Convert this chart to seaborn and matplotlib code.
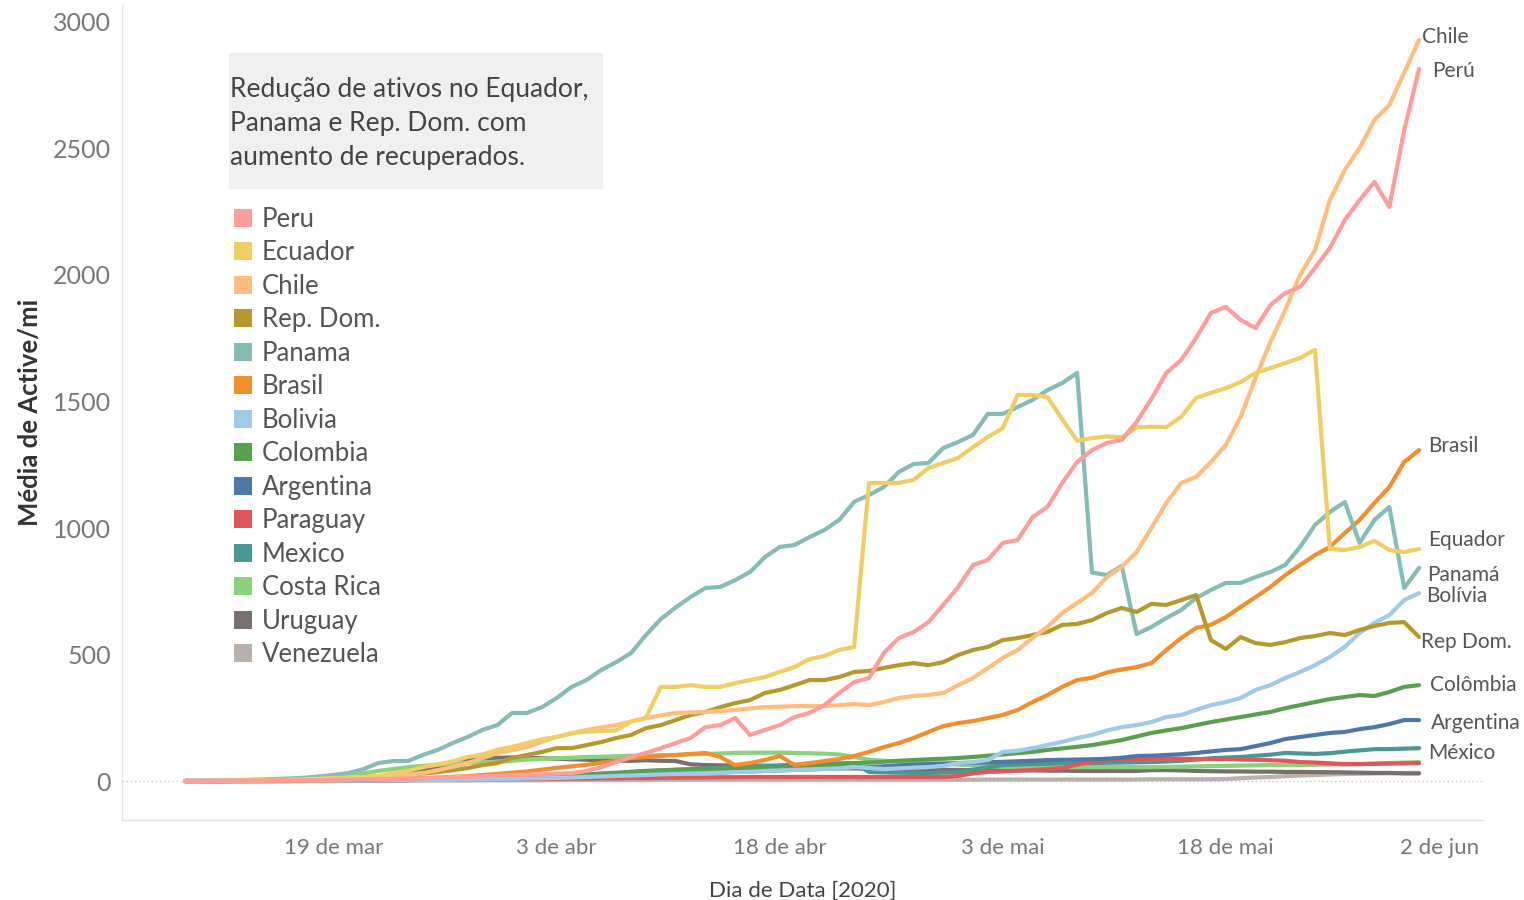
import numpy as np
import pandas as pd
import seaborn as sns
import matplotlib.pyplot as plt
import matplotlib.transforms as mtransforms
from matplotlib.patches import Patch, Rectangle

dates = pd.date_range('2020-03-09', periods=84)

peru = [0, 0, 0, 1, 1, 1, 2, 2, 3, 3,
        4, 5, 6, 7, 8, 10, 11, 13, 15, 17,
        19, 21, 23, 25, 27, 29, 31, 40, 55, 75,
        95, 111, 130, 150, 170, 213, 221, 249, 182, 202,
        221, 253, 269, 300, 348, 391, 407, 506, 565, 589,
        628, 696, 767, 854, 874, 941, 953, 1043, 1083, 1178,
        1261, 1308, 1336, 1348, 1419, 1510, 1613, 1664, 1751, 1850,
        1874, 1822, 1790, 1881, 1929, 1953, 2028, 2107, 2217, 2296,
        2368, 2269, 2573, 2814]
ecuador = [0, 0, 1, 1, 2, 3, 4, 5, 7, 9,
           12, 14, 16, 20, 30, 40, 55, 65, 78, 95,
           105, 123, 135, 150, 165, 174, 190, 195, 198, 200,
           235, 250, 372, 372, 379, 372, 372, 387, 399, 411,
           431, 451, 482, 494, 518, 530, 1178, 1178, 1178, 1190,
           1237, 1257, 1277, 1320, 1360, 1395, 1526, 1526, 1518, 1430,
           1345, 1355, 1362, 1358, 1398, 1400, 1399, 1439, 1514, 1534,
           1553, 1577, 1613, 1632, 1652, 1672, 1704, 917, 913, 925,
           949, 913, 905, 917]
chile = [0, 0, 0, 1, 1, 2, 3, 4, 5, 7,
         9, 12, 15, 18, 21, 24, 32, 43, 56, 71,
         90, 111, 122, 134, 155, 174, 188, 202, 212, 221,
         235, 249, 259, 269, 271, 273, 277, 281, 287, 292,
         294, 296, 296, 296, 300, 304, 300, 312, 328, 336,
         340, 348, 379, 407, 447, 486, 518, 565, 609, 664,
         704, 743, 806, 846, 905, 1000, 1099, 1178, 1202, 1261,
         1328, 1439, 1593, 1735, 1862, 2000, 2099, 2296, 2415, 2502,
         2613, 2672, 2800, 2929]
repdom = [0, 0, 0, 0, 1, 1, 2, 3, 4, 5,
          7, 9, 12, 16, 20, 25, 30, 35, 43, 51,
          63, 71, 91, 103, 115, 130, 130, 142, 154, 170,
          182, 209, 221, 241, 261, 273, 292, 308, 320, 348,
          360, 379, 399, 399, 411, 431, 435, 447, 458, 466,
          458, 470, 498, 518, 530, 557, 565, 577, 589, 617,
          621, 636, 664, 684, 668, 700, 696, 715, 735, 557,
          522, 569, 545, 538, 549, 565, 573, 585, 577, 597,
          613, 625, 628, 569]
panama = [0, 1, 2, 3, 4, 6, 8, 10, 13, 18,
          24, 32, 47, 71, 79, 79, 103, 123, 150, 174,
          202, 221, 269, 269, 292, 328, 372, 399, 439, 470,
          506, 577, 640, 686, 727, 763, 767, 794, 826, 885,
          925, 933, 964, 992, 1032, 1103, 1130, 1162, 1221, 1253,
          1257, 1316, 1340, 1368, 1451, 1451, 1478, 1506, 1545, 1573,
          1613, 824, 814, 850, 581, 609, 644, 676, 723, 755,
          783, 783, 806, 826, 854, 925, 1012, 1063, 1103, 941,
          1032, 1083, 763, 842]
brasil = [0, 0, 0, 0, 0, 1, 1, 1, 2, 2,
          3, 4, 5, 6, 8, 10, 12, 14, 16, 19,
          24, 28, 33, 38, 45, 52, 58, 64, 72, 80,
          91, 95, 99, 103, 107, 111, 95, 63, 71, 83,
          99, 63, 71, 79, 87, 99, 115, 134, 150, 170,
          194, 217, 229, 237, 249, 261, 281, 312, 340, 372,
          399, 408, 429, 441, 450, 466, 518, 565, 605, 617,
          648, 688, 727, 767, 814, 854, 893, 925, 980, 1032,
          1099, 1162, 1261, 1308]
bolivia = [0, 0, 0, 0, 0, 0, 0, 0, 1, 1,
           1, 1, 2, 2, 3, 3, 4, 4, 5, 6,
           7, 8, 9, 10, 11, 12, 14, 16, 18, 20,
           22, 24, 26, 28, 30, 31, 33, 35, 37, 40,
           42, 44, 46, 48, 50, 55, 52, 47, 50, 53,
           55, 60, 71, 75, 83, 115, 120, 130, 142, 155,
           170, 182, 200, 213, 221, 233, 253, 261, 281, 300,
           312, 328, 360, 379, 407, 431, 458, 490, 530, 585,
           625, 656, 715, 743]
colombia = [0, 0, 0, 0, 0, 0, 1, 1, 1, 2,
            2, 3, 3, 4, 5, 6, 7, 8, 9, 10,
            12, 13, 14, 16, 18, 20, 22, 24, 27, 30,
            36, 40, 42, 44, 46, 47, 48, 49, 51, 52,
            53, 55, 58, 61, 65, 71, 73, 76, 80, 83,
            86, 88, 91, 95, 100, 105, 110, 115, 123, 129,
            135, 142, 152, 162, 176, 190, 200, 209, 221, 233,
            243, 253, 263, 273, 288, 300, 312, 324, 332, 340,
            336, 352, 372, 379]
argentina = [0, 0, 0, 0, 0, 0, 0, 0, 1, 1,
             1, 2, 2, 3, 3, 4, 5, 6, 7, 8,
             9, 10, 11, 12, 13, 14, 16, 18, 20, 22,
             26, 28, 30, 31, 32, 33, 34, 36, 38, 40,
             42, 44, 46, 48, 50, 52, 55, 58, 62, 65,
             67, 69, 71, 72, 74, 76, 78, 80, 83, 84,
             85, 86, 88, 92, 99, 100, 103, 106, 111, 117,
             123, 126, 138, 150, 166, 174, 182, 190, 194, 205,
             213, 225, 241, 241]
paraguay = [0, 0, 0, 0, 0, 0, 0, 1, 1, 1,
            2, 2, 3, 3, 4, 4, 5, 5, 6, 6,
            7, 7, 8, 8, 9, 9, 10, 10, 11, 11,
            12, 12, 13, 13, 14, 14, 15, 15, 16, 16,
            16, 16, 16, 16, 16, 16, 16, 16, 16, 16,
            16, 16, 20, 30, 36, 38, 41, 44, 47, 51,
            65, 75, 82, 87, 87, 87, 88, 88, 87, 87,
            87, 85, 84, 82, 80, 75, 73, 70, 67, 67,
            68, 69, 70, 71]
mexico = [0, 0, 0, 0, 0, 0, 0, 0, 0, 1,
          1, 2, 2, 3, 3, 4, 5, 6, 7, 8,
          10, 12, 14, 16, 18, 20, 23, 26, 30, 33,
          36, 39, 42, 45, 47, 50, 53, 56, 58, 60,
          62, 64, 66, 68, 70, 71, 36, 34, 33, 32,
          32, 33, 34, 45, 55, 63, 65, 67, 68, 70,
          71, 71, 72, 73, 74, 75, 77, 80, 85, 90,
          93, 95, 100, 104, 111, 109, 107, 110, 116, 121,
          126, 126, 128, 130]
costarica = [0, 0, 0, 0, 1, 1, 2, 3, 4, 6,
             10, 18, 30, 40, 47, 55, 60, 65, 70, 72,
             74, 76, 80, 85, 88, 90, 92, 95, 96, 98,
             100, 101, 102, 103, 105, 107, 109, 111, 112, 112,
             112, 111, 110, 108, 105, 95, 85, 80, 77, 74,
             71, 68, 65, 62, 60, 57, 55, 55, 55, 55,
             55, 55, 55, 55, 55, 55, 56, 57, 58, 59,
             60, 61, 62, 63, 63, 63, 64, 65, 66, 67,
             69, 71, 73, 75]
uruguay = [0, 0, 0, 0, 1, 1, 2, 3, 4, 5,
           7, 10, 14, 18, 25, 35, 45, 58, 70, 80,
           88, 92, 93, 92, 90, 88, 86, 84, 82, 81,
           80, 82, 80, 79, 66, 63, 62, 62, 61, 60,
           58, 56, 55, 53, 51, 50, 48, 47, 46, 45,
           45, 44, 44, 43, 43, 42, 42, 42, 41, 41,
           40, 40, 40, 40, 40, 43, 43, 42, 40, 39,
           38, 38, 37, 37, 36, 36, 35, 35, 34, 33,
           32, 32, 30, 30]
venezuela = [0, 0, 0, 0, 0, 0, 0, 0, 0, 0,
             0, 0, 1, 1, 1, 1, 2, 2, 2, 2,
             3, 3, 3, 3, 3, 4, 4, 4, 4, 4,
             4, 4, 5, 5, 5, 5, 5, 5, 5, 5,
             5, 5, 5, 5, 5, 5, 5, 5, 5, 5,
             5, 5, 5, 5, 6, 6, 6, 6, 6, 6,
             6, 6, 6, 6, 6, 7, 7, 7, 7, 7,
             8, 11, 14, 16, 19, 22, 24, 26, 28, 29,
             30, 31, 32, 32]

countries = ['Peru', 'Ecuador', 'Chile', 'Rep. Dom.', 'Panama', 'Brasil', 'Bolivia',
             'Colombia', 'Argentina', 'Paraguay', 'Mexico', 'Costa Rica', 'Uruguay', 'Venezuela']
series = [peru, ecuador, chile, repdom, panama, brasil, bolivia,
          colombia, argentina, paraguay, mexico, costarica, uruguay, venezuela]
colors = ['#FF9D9A', '#F1CE63', '#FFBE7D', '#B6992D', '#86BCB6', '#F28E2B', '#A0CBE8',
          '#59A14F', '#4E79A7', '#E15759', '#499894', '#8CD17D', '#79706E', '#BAB0AC']

# rótulos no fim das linhas
end_labels = {'Chile': 'Chile', 'Peru': 'Perú', 'Brasil': 'Brasil', 'Ecuador': 'Equador',
              'Panama': 'Panamá', 'Bolivia': 'Bolívia', 'Rep. Dom.': 'Rep Dom.',
              'Colombia': 'Colômbia', 'Argentina': 'Argentina', 'Mexico': 'México'}
label_offsets = {'Chile': (3, 3), 'Peru': (13, -2), 'Brasil': (9, 4), 'Ecuador': (9, 9),
                 'Panama': (8, -7), 'Bolivia': (7, -3), 'Rep. Dom.': (2, -5),
                 'Colombia': (11, 0), 'Argentina': (12, -3), 'Mexico': (9, -5)}

xtick_dates = pd.to_datetime(['2020-03-19', '2020-04-03', '2020-04-18',
                              '2020-05-03', '2020-05-18', '2020-06-02'])
xtick_labels = ['19 de mar', '3 de abr', '18 de abr', '3 de mai', '18 de mai', '2 de jun']
yticks = [0, 500, 1000, 1500, 2000, 2500, 3000]

df = pd.DataFrame({'data': np.tile(dates, len(countries)),
                   'pais': np.repeat(countries, len(dates)),
                   'valor': np.concatenate(series)})

sns.set_style('white')
plt.rcParams['font.family'] = ['Lato', 'DejaVu Sans']

fig = plt.figure(figsize=(15.24, 9), dpi=100)
ax = fig.add_axes([122 / 1524, 80 / 900, 1361 / 1524, 815 / 900])

ax.axhline(0, color='#c8c8c8', lw=1, ls=(0, (1, 2)), zorder=1)
sns.lineplot(data=df, x='data', y='valor', hue='pais', hue_order=countries[::-1],
             palette=dict(zip(countries, colors)), lw=3, legend=False, ax=ax, zorder=3)

for name in countries:
    if name in end_labels:
        vals = series[countries.index(name)]
        dx, dy = label_offsets[name]
        ax.annotate(end_labels[name], (dates[-1], vals[-1]), xytext=(dx, dy),
                    textcoords='offset pixels', ha='left', va='center',
                    fontsize=15, color='#555555')

ax.set_xlim(dates[0] - pd.Timedelta(days=4.24), dates[0] + pd.Timedelta(days=87.3))
ax.set_ylim(-154, 3067)
ax.set_xticks(xtick_dates)
ax.set_xticklabels(xtick_labels)
ax.set_yticks(yticks)
ax.tick_params(axis='both', length=0, colors='#777777')
ax.tick_params(axis='x', labelsize=16, pad=13)
ax.tick_params(axis='y', labelsize=18, pad=8)
# último rótulo fica encostado na borda, como no Tableau
last = ax.get_xticklabels()[-1]
last.set_transform(last.get_transform() + mtransforms.ScaledTranslation(-0.09, 0, fig.dpi_scale_trans))

ax.set_xlabel('Dia de Data [2020]', fontsize=16, color='#444444', labelpad=16)
ax.set_ylabel('Média de Active/mi', fontsize=18.5, color='#333333', fontweight='bold', labelpad=8)

for s in ['top', 'right']:
    ax.spines[s].set_visible(False)
for s in ['left', 'bottom']:
    ax.spines[s].set_color('#e4e4e4')
    ax.spines[s].set_linewidth(1)

# caixa de anotação
fig.patches.append(Rectangle((229 / 1524, 1 - 188 / 900), 373 / 1524, 135 / 900,
                             transform=fig.transFigure, color='#f0f0f0', zorder=0))
fig.text(230 / 1524, 1 - 77 / 900,
         'Redução de ativos no Equador,\nPanama e Rep. Dom. com\naumento de recuperados.',
         fontsize=19, color='#444444', va='top', ha='left', linespacing=1.45)

handles = [Patch(facecolor=c, edgecolor='none', label=n) for n, c in zip(countries, colors)]
fig.legend(handles=handles, loc='upper left', bbox_to_anchor=(234 / 1524, 1 - 207 / 900),
           frameon=False, fontsize=18.5, handlelength=0.7, handleheight=0.7,
           handletextpad=0.39, labelspacing=0.33, borderpad=0, borderaxespad=0,
           labelcolor='#555555')

fig.savefig('out.png', dpi=100)
